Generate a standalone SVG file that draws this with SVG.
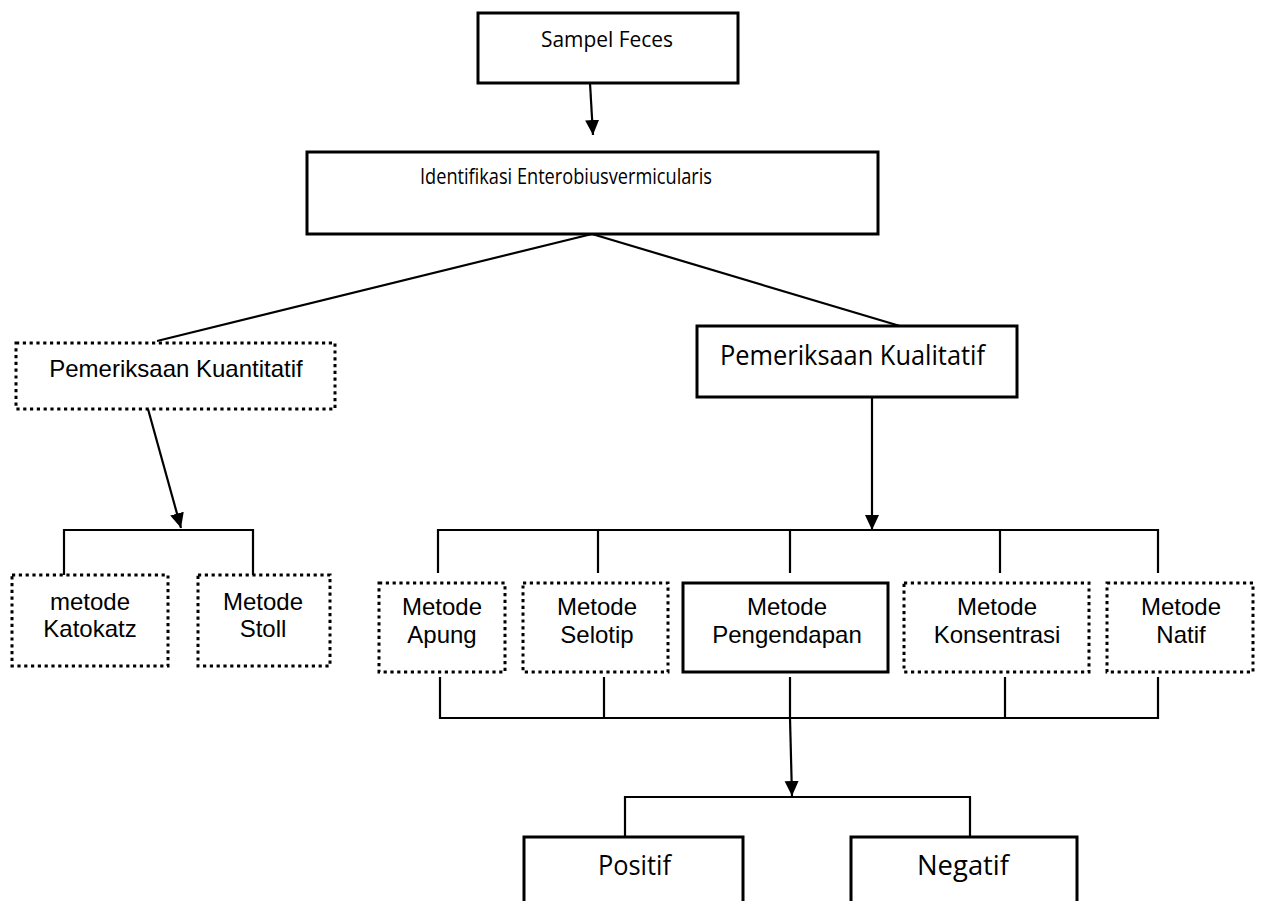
<svg xmlns="http://www.w3.org/2000/svg" width="1265" height="901" viewBox="0 0 1265 901">
<defs>
<marker id="arr" markerUnits="userSpaceOnUse" markerWidth="16" markerHeight="16" viewBox="0 0 16 16" refX="15" refY="8" orient="auto">
<path d="M0,1 L15,8 L0,15 Z" fill="#000"/>
</marker>
</defs>
<style>
.solid{fill:#fff;stroke:#000;stroke-width:3}
.dot{fill:#fff;stroke:#000;stroke-width:3;stroke-dasharray:3.2 3.6}
.con{fill:none;stroke:#000;stroke-width:2.2}
.cal{font-family:"Open Sans","Noto Sans",sans-serif;fill:#000}
.ar{font-family:"Liberation Sans",Arial,sans-serif;font-size:24px;fill:#000;text-anchor:middle}
</style>
<rect width="1265" height="901" fill="#fff"/>
<g id="connectors">
<path class="con" d="M590 83 L593 135" marker-end="url(#arr)"/>
<path class="con" d="M592 234 L157 341"/>
<path class="con" d="M592 234 L900 326"/>
<path class="con" d="M148 409 L181 528" marker-end="url(#arr)"/>
<path class="con" d="M64 575 V530 H253 V575"/>
<path class="con" d="M872 397 V530" marker-end="url(#arr)"/>
<path class="con" d="M438 573 V530 H1158 V573 M598 530 V573 M790 530 V573 M1000 530 V573"/>
<path class="con" d="M440 677 V718 H1158 V677 M604 677 V718 M790 677 V718 M1005 677 V718"/>
<path class="con" d="M790 718 L792 796" marker-end="url(#arr)"/>
<path class="con" d="M625 837 V797 H970 V837"/>
</g>
<g id="sampel">
<rect class="solid" x="478" y="13" width="260" height="70"/>
<text class="cal" x="541" y="47" font-size="22" textLength="132" lengthAdjust="spacingAndGlyphs">Sampel Feces</text>
</g>
<g id="identifikasi">
<rect class="solid" x="307" y="152" width="571" height="82"/>
<text class="cal" x="420" y="184" font-size="22" textLength="292" lengthAdjust="spacingAndGlyphs">Identifikasi Enterobiusvermicularis</text>
</g>
<g id="kuantitatif">
<rect class="dot" x="16" y="343" width="319" height="66"/>
<text class="ar" x="176" y="377">Pemeriksaan Kuantitatif</text>
</g>
<g id="kualitatif">
<rect class="solid" x="697" y="326" width="320" height="71"/>
<text class="cal" x="720" y="365" font-size="27" textLength="265" lengthAdjust="spacingAndGlyphs">Pemeriksaan Kualitatif</text>
</g>
<g id="katokatz">
<rect class="dot" x="12" y="575" width="156" height="91"/>
<text class="ar" x="90" y="610">metode</text>
<text class="ar" x="90" y="637">Katokatz</text>
</g>
<g id="stoll">
<rect class="dot" x="198" y="575" width="132" height="91"/>
<text class="ar" x="263" y="610">Metode</text>
<text class="ar" x="263" y="637">Stoll</text>
</g>
<g id="apung">
<rect class="dot" x="379" y="583" width="126" height="89"/>
<text class="ar" x="442" y="615">Metode</text>
<text class="ar" x="442" y="643">Apung</text>
</g>
<g id="selotip">
<rect class="dot" x="523" y="583" width="145" height="89"/>
<text class="ar" x="597" y="615">Metode</text>
<text class="ar" x="597" y="643">Selotip</text>
</g>
<g id="pengendapan">
<rect class="solid" x="683" y="583" width="205" height="89"/>
<text class="ar" x="787" y="615">Metode</text>
<text class="ar" x="787" y="643">Pengendapan</text>
</g>
<g id="konsentrasi">
<rect class="dot" x="904" y="583" width="185" height="89"/>
<text class="ar" x="997" y="615">Metode</text>
<text class="ar" x="997" y="643">Konsentrasi</text>
</g>
<g id="natif">
<rect class="dot" x="1107" y="583" width="146" height="89"/>
<text class="ar" x="1181" y="615">Metode</text>
<text class="ar" x="1181" y="643">Natif</text>
</g>
<g id="positif">
<rect class="solid" x="524" y="837" width="219" height="80"/>
<text class="cal" x="598" y="875" font-size="27" textLength="73" lengthAdjust="spacingAndGlyphs">Positif</text>
</g>
<g id="negatif">
<rect class="solid" x="851" y="837" width="226" height="80"/>
<text class="cal" x="917" y="875" font-size="27" textLength="92" lengthAdjust="spacingAndGlyphs">Negatif</text>
</g>
</svg>
